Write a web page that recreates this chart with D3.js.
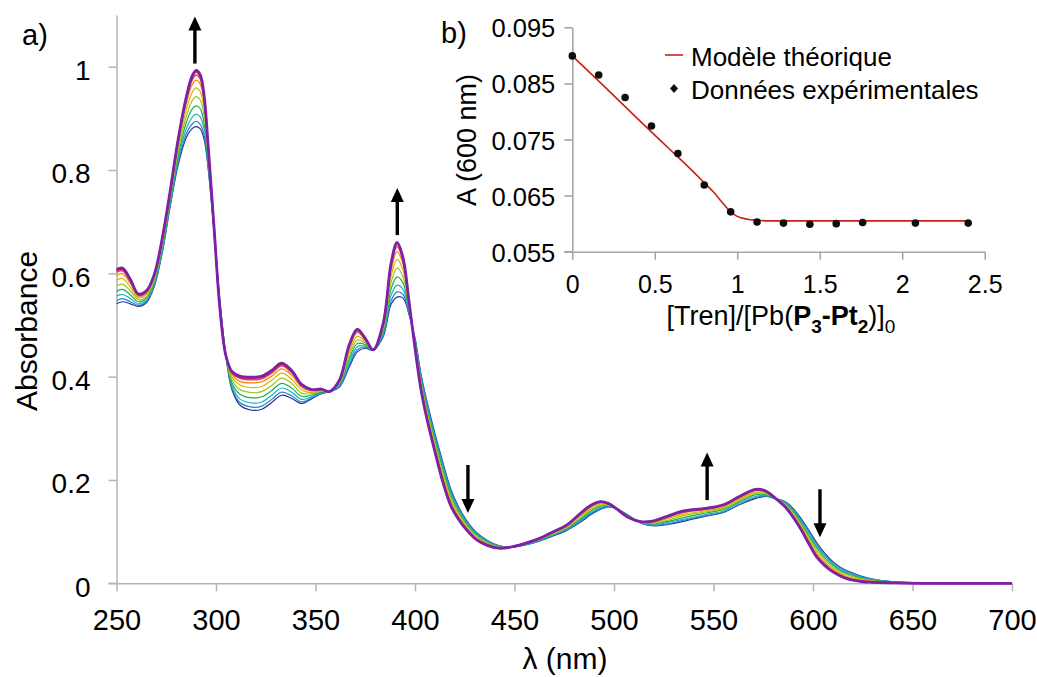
<!DOCTYPE html>
<html><head><meta charset="utf-8">
<script src="https://cdn.jsdelivr.net/npm/d3@7"></script>
<style>
body{margin:0;background:#fff}
svg{display:block}
text{font-family:"Liberation Sans",Arial,Helvetica,sans-serif;fill:#000}
</style>
</head><body>
<svg id="c" width="1037" height="677"></svg>
<script>
// ---------------- DATA ----------------
const wavelengths = [250,253,257,261,265,269,273,277,281,285,288,290,292,294,296,299,302,305,308,312,318,323,328,333,338,343,348,353,357,362,367,371,375,379,384,388,391,394,397,400,403,406,410,414,418,422,426,431,436,442,448,455,462,469,476,483,488,493,497,501,507,514,520,527,535,546,555,563,571,576,581,586,590,594,598,602,606,610,615,620,625,630,640,655,700];
// absorbance of each spectrum (first column = first spectrum, last = final spectrum) at each wavelength
const absorbance = [
[.541,.547,.556,.565,.576,.587,.596,.602,.605,.607],
[.545,.551,.559,.569,.579,.590,.599,.605,.608,.610],
[.541,.545,.551,.558,.566,.573,.580,.584,.587,.588],
[.536,.538,.541,.545,.549,.553,.556,.558,.559,.560],
[.543,.545,.548,.552,.555,.559,.562,.564,.565,.566],
[.575,.577,.580,.584,.587,.591,.594,.596,.597,.598],
[.640,.643,.646,.650,.655,.659,.663,.666,.667,.668],
[.730,.733,.737,.741,.746,.751,.755,.758,.759,.760],
[.810,.815,.821,.829,.837,.845,.852,.856,.859,.860],
[.862,.869,.879,.891,.903,.916,.927,.934,.938,.940],
[.880,.889,.902,.918,.934,.950,.965,.974,.979,.982],
[.884,.894,.908,.924,.942,.959,.974,.984,.990,.993],
[.880,.889,.903,.919,.936,.952,.967,.977,.982,.985],
[.860,.868,.879,.891,.905,.919,.931,.938,.942,.945],
[.805,.809,.815,.822,.829,.836,.842,.846,.849,.850],
[.680,.681,.682,.684,.685,.687,.688,.689,.690,.690],
[.545,.544,.542,.539,.537,.535,.533,.531,.530,.530],
[.440,.440,.440,.440,.440,.440,.440,.440,.440,.440],
[.375,.378,.383,.388,.394,.399,.404,.407,.409,.410],
[.345,.350,.357,.366,.375,.384,.391,.397,.399,.401],
[.335,.341,.349,.359,.369,.379,.388,.394,.397,.399],
[.337,.343,.351,.361,.371,.381,.390,.396,.399,.401],
[.350,.356,.364,.373,.383,.393,.401,.407,.410,.412],
[.364,.370,.378,.387,.397,.407,.415,.421,.424,.426],
[.358,.363,.370,.378,.387,.395,.403,.408,.410,.412],
[.348,.351,.356,.362,.368,.374,.379,.382,.384,.385],
[.357,.359,.361,.364,.367,.369,.372,.374,.374,.375],
[.367,.368,.369,.370,.372,.373,.374,.375,.376,.376],
[.371,.371,.371,.371,.371,.371,.371,.371,.371,.371],
[.380,.381,.383,.385,.387,.389,.391,.392,.393,.393],
[.419,.423,.428,.435,.442,.449,.455,.459,.461,.462],
[.448,.452,.458,.464,.471,.478,.485,.488,.491,.492],
[.455,.457,.459,.462,.465,.468,.471,.472,.473,.474],
[.451,.451,.451,.451,.451,.451,.452,.452,.452,.452],
[.477,.479,.483,.487,.491,.495,.499,.501,.502,.503],
[.540,.547,.558,.570,.582,.595,.606,.614,.618,.620],
[.554,.564,.577,.593,.610,.627,.642,.652,.657,.660],
[.552,.559,.569,.581,.593,.606,.617,.624,.628,.630],
[.520,.522,.526,.529,.533,.537,.541,.543,.544,.545],
[.475,.473,.471,.468,.464,.461,.458,.457,.456,.455],
[.405,.402,.398,.394,.389,.384,.380,.377,.376,.375],
[.352,.349,.345,.339,.334,.329,.324,.321,.319,.318],
[.290,.287,.282,.277,.271,.266,.261,.258,.256,.255],
[.234,.231,.226,.220,.214,.208,.202,.199,.197,.196],
[.182,.179,.175,.170,.165,.160,.155,.153,.151,.150],
[.147,.145,.142,.138,.134,.130,.127,.125,.124,.123],
[.121,.119,.117,.114,.111,.109,.106,.104,.104,.103],
[.098,.097,.095,.093,.091,.088,.086,.085,.084,.084],
[.084,.083,.082,.080,.079,.077,.076,.075,.074,.074],
[.073,.073,.072,.071,.070,.070,.069,.068,.068,.068],
[.070,.070,.070,.070,.070,.070,.070,.070,.070,.070],
[.074,.074,.075,.075,.076,.076,.076,.077,.077,.077],
[.081,.081,.082,.083,.084,.084,.085,.086,.086,.086],
[.091,.092,.093,.094,.095,.097,.098,.098,.099,.099],
[.102,.103,.104,.106,.107,.109,.110,.111,.112,.112],
[.118,.120,.122,.124,.127,.130,.132,.134,.134,.135],
[.132,.134,.136,.139,.142,.144,.147,.149,.149,.150],
[.143,.144,.146,.149,.151,.153,.155,.157,.158,.158],
[.148,.149,.150,.151,.152,.153,.154,.154,.155,.155],
[.145,.145,.145,.145,.145,.145,.145,.145,.145,.145],
[.132,.132,.131,.131,.130,.129,.129,.128,.128,.128],
[.116,.116,.117,.117,.118,.118,.118,.119,.119,.119],
[.111,.112,.113,.115,.116,.118,.119,.120,.121,.121],
[.114,.115,.118,.120,.122,.125,.127,.129,.130,.130],
[.120,.122,.124,.127,.131,.134,.137,.138,.139,.140],
[.130,.131,.133,.136,.138,.140,.142,.144,.145,.145],
[.137,.138,.140,.143,.145,.147,.149,.151,.152,.152],
[.152,.153,.156,.158,.160,.163,.165,.167,.168,.168],
[.164,.166,.168,.171,.174,.176,.179,.181,.181,.182],
[.168,.169,.170,.172,.174,.176,.177,.178,.179,.179],
[.164,.164,.164,.164,.165,.165,.165,.165,.165,.165],
[.158,.157,.156,.154,.153,.151,.150,.149,.148,.148],
[.145,.143,.141,.139,.136,.133,.131,.129,.129,.128],
[.125,.123,.120,.117,.114,.111,.108,.106,.105,.104],
[.102,.100,.096,.092,.088,.084,.080,.078,.077,.076],
[.078,.075,.072,.068,.063,.059,.055,.052,.051,.050],
[.058,.056,.053,.049,.045,.041,.038,.036,.035,.034],
[.042,.040,.038,.035,.031,.028,.025,.024,.023,.022],
[.028,.027,.024,.022,.020,.017,.015,.013,.012,.012],
[.020,.019,.017,.015,.013,.010,.008,.007,.006,.006],
[.013,.012,.011,.009,.008,.006,.005,.004,.003,.003],
[.008,.007,.007,.006,.005,.004,.003,.002,.002,.002],
[.003,.003,.003,.002,.002,.002,.001,.001,.001,.001],
[.001,.001,.001,.001,0,0,0,0,0,0],
[0,0,0,0,0,0,0,0,0,0]
];
const spectrumColors = ["#283593","#2c7fd4","#1cb3c0","#1bb04c","#9cc21f","#dcb200","#ef8e1d","#e8452b","#d8206a","#7b22a8"];
const spectrumWidths = [1.2,1.2,1.2,1.2,1.2,1.2,1.3,1.5,1.8,2.8];

const xTicks = [250,300,350,400,450,500,550,600,650,700];
const yTicks = [0,0.2,0.4,0.6,0.8,1];
const yTickLabels = ["0","0.2","0.4","0.6","0.8","1"];

// arrows: wavelength, absorbance of tail, absorbance of head
const arrows = [
  {w:289.4, from:1.006, to:1.097},
  {w:391.1, from:0.674, to:0.765},
  {w:426.6, from:0.229, to:0.136},
  {w:546.8, from:0.161, to:0.253},
  {w:603.5, from:0.182, to:0.089}
];

// inset (b)
const ratio = [0,0.16,0.32,0.48,0.64,0.80,0.96,1.12,1.28,1.44,1.60,1.76,2.08,2.40];
const a600 = [0.0899,0.0865,0.0825,0.0774,0.0725,0.0669,0.0621,0.0603,0.0601,0.0599,0.0600,0.0602,0.0601,0.0601];
const modelRatio = [0,0.2,0.4,0.6,0.7,0.8,0.86,0.92,0.96,1.0,1.06,1.12,1.2,1.5,2.4];
const modelA = [0.0899,0.0843,0.0786,0.0730,0.0702,0.0673,0.0655,0.0634,0.0621,0.0613,0.0608,0.0606,0.0605,0.0605,0.0605];
const insetXTicks = [0,0.5,1,1.5,2,2.5];
const insetXTickLabels = ["0","0.5","1","1.5","2","2.5"];
const insetYTicks = [0.055,0.065,0.075,0.085,0.095];
const insetYTickLabels = ["0.055","0.065","0.075","0.085","0.095"];

// ---------------- DRAW ----------------
const svg = d3.select("#c");
const axisColor = "#b4b4b4";

const x = d3.scaleLinear().domain([250,700]).range([116.5,1012]);
const y = d3.scaleLinear().domain([0,1.1]).range([583.3,15]);

// axes
const gx = svg.append("g").attr("transform",`translate(0,${y(0)})`)
  .call(d3.axisBottom(x).tickValues(xTicks).tickSize(8).tickSizeOuter(0).tickFormat(d3.format("d")));
gx.selectAll("text").attr("y",47).attr("dy",0).style("font-size","29px");
const gy = svg.append("g").attr("transform",`translate(${x(250)},0)`)
  .call(d3.axisLeft(y).tickValues(yTicks).tickSize(8).tickSizeOuter(0).tickFormat((d,i)=>yTickLabels[i]));
gy.selectAll("text").attr("x",-26).attr("y",13).attr("dy",0).style("font-size","28px");
[gx,gy].forEach(g=>{
  g.select(".domain").attr("stroke",axisColor).attr("stroke-width",1.5);
  g.selectAll(".tick line").attr("stroke",axisColor).attr("stroke-width",1.5);
  g.attr("font-family",null);
});
svg.append("line").attr("x1",x(250)-8).attr("x2",x(250)).attr("y1",y(0)).attr("y2",y(0))
  .attr("stroke",axisColor).attr("stroke-width",1.5);

// spectra
const line = d3.line().x(d=>x(d.w)).y(d=>y(d.a)).curve(d3.curveCatmullRom.alpha(0.5));
spectrumColors.forEach((c,i)=>{
  const series = wavelengths.map((w,j)=>({w, a:absorbance[j][i]}));
  svg.append("path").datum(series).attr("d",line)
    .attr("fill","none").attr("stroke",c).attr("stroke-width",spectrumWidths[i])
    .attr("stroke-linejoin","round");
});

// arrows
arrows.forEach(a=>{
  const xa = x(a.w), y1 = y(a.from), y2 = y(a.to);
  const dir = Math.sign(y2-y1);
  const headLen = 14, headW = 6.5;
  svg.append("line").attr("x1",xa).attr("x2",xa).attr("y1",y1).attr("y2",y2-dir*headLen+dir*1)
    .attr("stroke","#000").attr("stroke-width",3.4);
  svg.append("path")
    .attr("d",`M${xa},${y2} L${xa-headW},${y2-dir*headLen} L${xa+headW},${y2-dir*headLen} Z`)
    .attr("fill","#000");
});

// labels
svg.append("text").attr("transform",`translate(37,331) rotate(-90)`).attr("text-anchor","middle")
  .style("font-size","30px").text("Absorbance");
svg.append("text").attr("x",565).attr("y",669).attr("text-anchor","middle")
  .style("font-size","30px").text("λ (nm)");
svg.append("text").attr("x",22).attr("y",45).style("font-size","29px").text("a)");

// ---------------- INSET ----------------
const ix = d3.scaleLinear().domain([0,2.5]).range([572.3,984.7]);
const iy = d3.scaleLinear().domain([0.055,0.095]).range([251.7,27.3]);
const insetAxisColor = "#a6a6a6";
const igx = svg.append("g").attr("transform",`translate(0,${iy(0.055)})`)
  .call(d3.axisBottom(ix).tickValues(insetXTicks).tickSize(8).tickSizeOuter(0).tickFormat((d,i)=>insetXTickLabels[i]));
igx.selectAll("text").attr("y",41).attr("dy",0).style("font-size","25px");
const igy = svg.append("g").attr("transform",`translate(${ix(0)},0)`)
  .call(d3.axisLeft(iy).tickValues(insetYTicks).tickSize(8).tickSizeOuter(0).tickFormat((d,i)=>insetYTickLabels[i]));
igy.selectAll("text").attr("x",-17).attr("y",9.5).attr("dy",0).style("font-size","25.5px");
[igx,igy].forEach(g=>{
  g.select(".domain").attr("stroke",insetAxisColor).attr("stroke-width",1.6);
  g.selectAll(".tick line").attr("stroke",insetAxisColor).attr("stroke-width",1.6);
  g.attr("font-family",null);
});
svg.append("line").attr("x1",ix(0)-8).attr("x2",ix(0)).attr("y1",iy(0.055)).attr("y2",iy(0.055))
  .attr("stroke",insetAxisColor).attr("stroke-width",1.6);

const modelLine = d3.line().x(d=>ix(d[0])).y(d=>iy(d[1])).curve(d3.curveMonotoneX);
svg.append("path").datum(modelRatio.map((r,i)=>[r,modelA[i]])).attr("d",modelLine)
  .attr("fill","none").attr("stroke","#cc1f1a").attr("stroke-width",1.6);

const defs = svg.append("defs");
defs.append("filter").attr("id","soft").append("feGaussianBlur").attr("stdDeviation",0.6);
svg.append("g").selectAll("circle").data(ratio.map((r,i)=>[r,a600[i]])).join("circle")
  .attr("cx",d=>ix(d[0])).attr("cy",d=>iy(d[1])).attr("r",3.8).attr("fill","#111")
  .attr("filter","url(#soft)");

// legend
svg.append("line").attr("x1",665).attr("x2",683).attr("y1",55).attr("y2",55)
  .attr("stroke","#cc1f1a").attr("stroke-width",1.6);
svg.append("text").attr("x",691).attr("y",66).style("font-size","26px").text("Modèle théorique");
svg.append("path").attr("d","M674,84 L678,88.5 L674,93 L670,88.5 Z").attr("fill","#111");
svg.append("text").attr("x",691).attr("y",99).style("font-size","26px").text("Données expérimentales");

// inset axis labels
svg.append("text").attr("transform",`translate(476,140) rotate(-90)`).attr("text-anchor","middle")
  .style("font-size","27px").text("A (600 nm)");
const xl = svg.append("text").attr("x",781).attr("y",325).attr("text-anchor","middle").style("font-size","27px");
xl.append("tspan").text("[Tren]/[Pb(");
xl.append("tspan").style("font-weight","bold").text("P");
xl.append("tspan").style("font-weight","bold").style("font-size","19px").attr("dy",8).text("3");
xl.append("tspan").style("font-weight","bold").attr("dy",-8).text("-Pt");
xl.append("tspan").style("font-weight","bold").style("font-size","19px").attr("dy",8).text("2");
xl.append("tspan").attr("dy",-8).text(")]");
xl.append("tspan").style("font-size","19px").attr("dy",8).text("0");
svg.append("text").attr("x",441).attr("y",43).style("font-size","29px").text("b)");
</script>
</body></html>
